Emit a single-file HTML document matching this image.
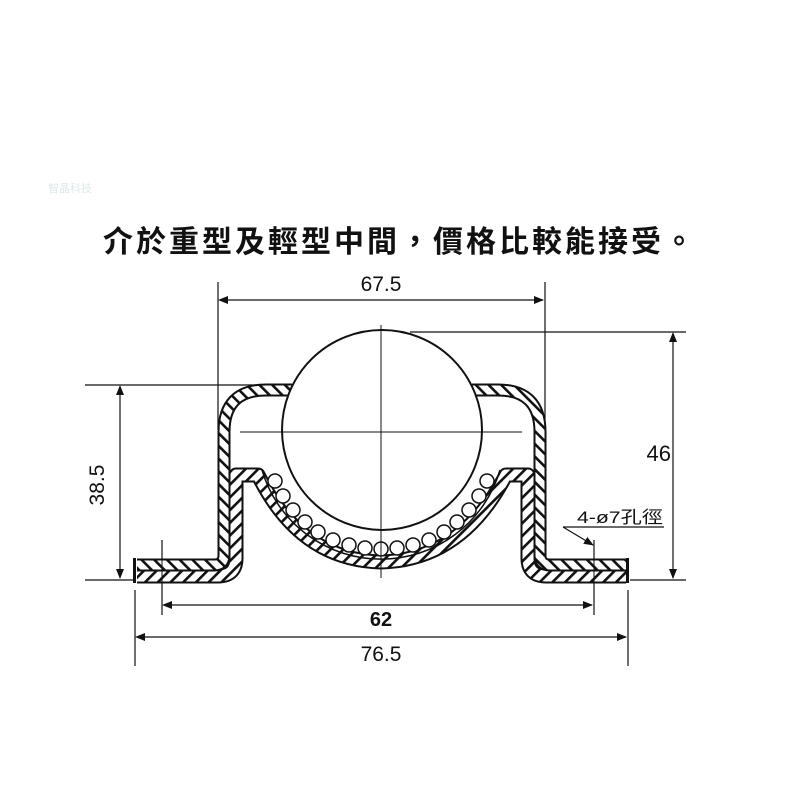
<!DOCTYPE html>
<html><head><meta charset="utf-8"><style>
html,body{margin:0;padding:0;background:#fff;width:800px;height:800px;overflow:hidden}
svg{display:block}
text{font-family:"Liberation Sans","Noto Sans CJK TC",sans-serif;fill:#111}
</style></head><body>
<svg width="800" height="800" viewBox="0 0 800 800" xmlns="http://www.w3.org/2000/svg">
<defs>
<pattern id="h" width="9" height="9" patternUnits="userSpaceOnUse" patternTransform="rotate(45)">
<rect width="9" height="9" fill="#fff"/><rect width="2.6" height="9" fill="#111"/>
</pattern>
<pattern id="h2" width="9" height="9" patternUnits="userSpaceOnUse" patternTransform="rotate(-45)">
<rect width="9" height="9" fill="#fff"/><rect width="2.6" height="9" fill="#111"/>
</pattern>
<marker id="a" markerWidth="10" markerHeight="10" refX="9" refY="5" orient="auto" markerUnits="userSpaceOnUse">
<path d="M0,1 L10,5 L0,9 Z" fill="#111"/></marker>
</defs>
<text x="48" y="192" font-size="11" style="fill:#dde9e9">智晶科技</text>
<text x="400" y="252" font-size="30" font-weight="bold" text-anchor="middle" letter-spacing="3">介於重型及輕型中間，價格比較能接受。</text>

<g stroke="#111" fill="none" stroke-width="1.2">
<line x1="218" y1="282" x2="218" y2="430"/>
<line x1="545" y1="282" x2="545" y2="420"/>
<line x1="220" y1="300" x2="543" y2="300" marker-end="url(#a)"/>
<line x1="410" y1="332" x2="686" y2="332"/>
<line x1="630" y1="580" x2="686" y2="580"/>
<line x1="673" y1="334" x2="673" y2="578" marker-end="url(#a)"/>
<line x1="85" y1="385" x2="262" y2="385"/>
<line x1="85" y1="580" x2="135" y2="580"/>
<line x1="120" y1="387" x2="120" y2="578" marker-end="url(#a)"/>
<line x1="162" y1="540" x2="162" y2="615"/>
<line x1="594" y1="540" x2="594" y2="615"/>
<line x1="164" y1="605" x2="592" y2="605" marker-end="url(#a)"/>
<line x1="135" y1="590" x2="135" y2="666"/>
<line x1="628" y1="590" x2="628" y2="666"/>
<line x1="137" y1="637" x2="626" y2="637" marker-end="url(#a)"/>
<line x1="563" y1="527" x2="664" y2="527"/>
<line x1="563" y1="527" x2="593" y2="545" marker-end="url(#a)"/>
</g>
<g fill="#111">
<path d="M218,300 l10,-4 l0,8z"/><path d="M673,332 l-4,10 l8,0z"/><path d="M120,385 l-4,10 l8,0z"/>
<path d="M162,605 l10,-4 l0,8z"/><path d="M135,637 l10,-4 l0,8z"/>
</g>

<g fill="none" stroke-linejoin="round">
<path d="M137,576 L218,576 Q236,576 236,558 L236,475 L258,475 Q300,560 381,562 Q462,560 506,475 L528,475 L528,558 Q528,576 546,576 L626,576" stroke="#111" stroke-width="15"/>
<path d="M137,576 L218,576 Q236,576 236,558 L236,475 L258,475 Q300,560 381,562 Q462,560 506,475 L528,475 L528,558 Q528,576 546,576 L626,576" stroke="url(#h)" stroke-width="11"/>
<path d="M137,565 L214,565 Q224,565 224,555 L224,432 Q224,390 266,390 L292,390 M472,390 L498,390 Q540,390 540,432 L540,555 Q540,565 550,565 L626,565" stroke="#111" stroke-width="13"/>
<path d="M137,565 L214,565 Q224,565 224,555 L224,432 Q224,390 266,390 L292,390 M472,390 L498,390 Q540,390 540,432 L540,555 Q540,565 550,565 L626,565" stroke="url(#h2)" stroke-width="9"/>
</g>
<rect x="133" y="558" width="3" height="25" fill="#111"/><rect x="626" y="558" width="3" height="25" fill="#111"/>
<path d="M262,470 A124,124 0 0 0 500,470" fill="none" stroke="#111" stroke-width="1.5"/>
<g fill="#fff" stroke="#111" stroke-width="1.5">
<circle cx="275" cy="481" r="7"/><circle cx="283" cy="496" r="7"/><circle cx="293" cy="510" r="7"/><circle cx="305" cy="522" r="7"/><circle cx="318" cy="532" r="7"/><circle cx="333" cy="540" r="7"/><circle cx="349" cy="545" r="7"/><circle cx="365" cy="548" r="7"/><circle cx="381" cy="549" r="7"/><circle cx="397" cy="548" r="7"/><circle cx="413" cy="545" r="7"/><circle cx="429" cy="540" r="7"/><circle cx="444" cy="532" r="7"/><circle cx="457" cy="522" r="7"/><circle cx="469" cy="510" r="7"/><circle cx="479" cy="496" r="7"/><circle cx="487" cy="481" r="7"/>
</g>
<circle cx="382" cy="430" r="100" fill="#fff" stroke="#111" stroke-width="2"/>
<g stroke="#111" stroke-width="1">
<line x1="381" y1="325" x2="381" y2="578"/>
<line x1="240" y1="432" x2="522" y2="432"/>
<line x1="594" y1="545" x2="594" y2="615"/>
<line x1="162" y1="545" x2="162" y2="615"/>
</g>

<text x="381" y="291" font-size="21" text-anchor="middle">67.5</text>
<text x="671" y="461" font-size="22" text-anchor="end">46</text>
<text x="0" y="0" font-size="21" text-anchor="middle" transform="translate(104,485) rotate(-90)">38.5</text>
<text x="381" y="626" font-size="20" text-anchor="middle" font-weight="bold">62</text>
<text x="381" y="661" font-size="21" text-anchor="middle">76.5</text>
<text x="577" y="523" font-size="17" textLength="86" lengthAdjust="spacingAndGlyphs">4-ø7孔徑</text>
</svg>
</body></html>
